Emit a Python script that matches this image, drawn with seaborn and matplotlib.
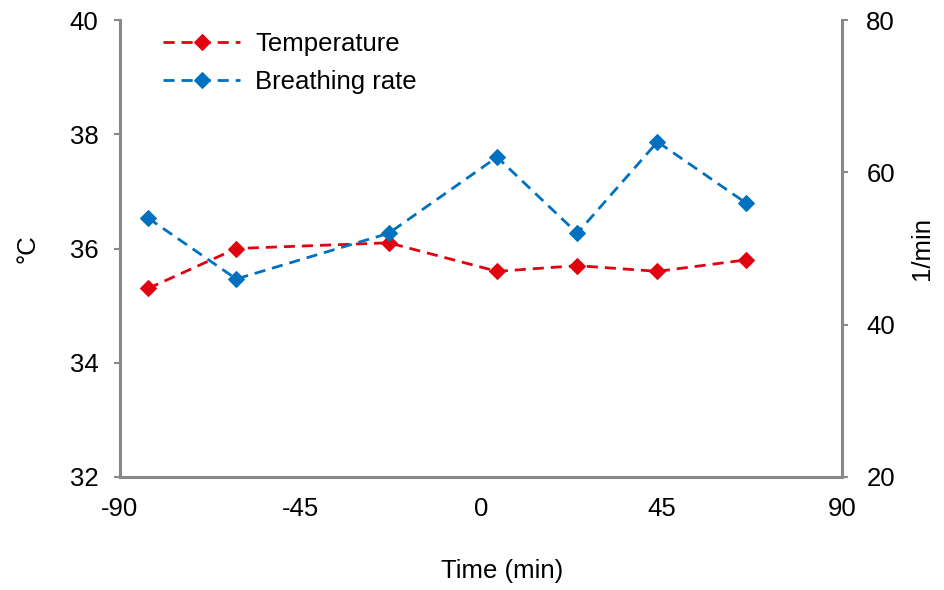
import matplotlib
matplotlib.use("Agg")
import matplotlib.pyplot as plt
import seaborn as sns
import pandas as pd

time_min = [-83, -61, -23, 4, 24, 44, 66]
temperature = [35.3, 36.0, 36.1, 35.6, 35.7, 35.6, 35.8]
breathing_rate = [54, 46, 52, 62, 52, 64, 56]
x_ticks = [-90, -45, 0, 45, 90]
left_ticks = [32, 34, 36, 38, 40]
right_ticks = [20, 40, 60, 80]

sns.set_theme(style="white")
plt.rcParams['font.family'] = ['Liberation Sans', 'DejaVu Sans']
plt.rcParams['text.color'] = 'black'
plt.rcParams['axes.labelcolor'] = 'black'

df = pd.DataFrame({"time": time_min, "temp": temperature, "br": breathing_rate})

red = "#E3000F"
blue = "#0070C0"
gray = "#898989"
fs = 18.5

fig = plt.figure(figsize=(9.45, 5.9), dpi=100)
ax = fig.add_axes([120/945, 1 - 477/590, (842-120)/945, (477-20)/590])
ax2 = ax.twinx()

sns.lineplot(data=df, x="time", y="temp", ax=ax, color=red, marker="D", markersize=8,
             markeredgecolor=red, linewidth=2, linestyle=(0, (4, 2.5)), label="Temperature",
             legend=False)
sns.lineplot(data=df, x="time", y="br", ax=ax2, color=blue, marker="D", markersize=8,
             markeredgecolor=blue, linewidth=2, linestyle=(0, (4, 2.5)), label="Breathing rate",
             legend=False)

ax.set_xlim(-90, 90)
ax.set_ylim(32, 40)
ax2.set_ylim(20, 80)
ax.set_xticks(x_ticks)
ax.set_xticklabels([str(v) for v in x_ticks])
ax.set_yticks(left_ticks)
ax2.set_yticks(right_ticks)

for a in (ax, ax2):
    for s in a.spines.values():
        s.set_color(gray)
        s.set_linewidth(2.2)
    a.spines['top'].set_visible(False)
    a.tick_params(colors=gray, labelcolor="black", labelsize=fs, length=4.5, width=1.5, direction="out")
    a.grid(False)
ax.spines['right'].set_visible(False)
ax2.spines['left'].set_visible(False)
ax2.spines['bottom'].set_visible(False)
ax.tick_params(axis="x", pad=10)
ax.tick_params(axis="y", pad=11)
ax2.tick_params(axis="y", pad=13)

ax.set_xlabel("Time (min)", fontsize=fs, color="black")
ax.xaxis.set_label_coords((502 - 120) / 722, -0.18)
ax.set_ylabel("°C", fontsize=fs, labelpad=22, color="black")
ax2.set_ylabel("1/min", fontsize=fs, labelpad=11, color="black")

h1, l1 = ax.get_legend_handles_labels()
h2, l2 = ax2.get_legend_handles_labels()
leg = ax2.legend(h1 + h2, l1 + l2, loc="upper left", bbox_to_anchor=(0.0457, 0.9956),
                 borderaxespad=0, frameon=False, fontsize=fs, handlelength=3.0,
                 handletextpad=0.58, labelspacing=0.55, labelcolor="black")

fig.savefig("out.png", dpi=100)
